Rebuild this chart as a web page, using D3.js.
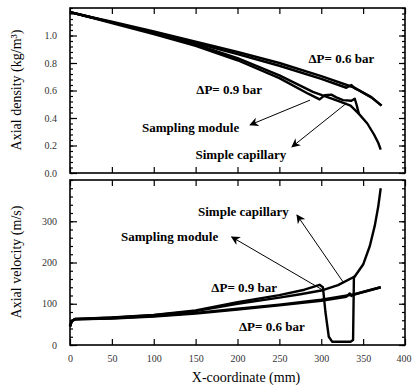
<!DOCTYPE html>
<html><head><meta charset="utf-8">
<script src="https://cdn.jsdelivr.net/npm/d3@7"></script>
<style>body{margin:0;background:#fff}svg{display:block} svg text{font-family:"Liberation Serif","Times New Roman","DejaVu Serif",serif !important;}</style>
</head><body>
<script>
// ---- data ----
const xTicks = [0,50,100,150,200,250,300,350,400];
const densTicks = [0,0.2,0.4,0.6,0.8,1.0];
const velTicks = [0,100,200,300];
// density (kg/m3) vs X (mm)
const densCap06 = [[0,1.17],[20,1.14],[50,1.1],[100,1.03],[150,0.955],[200,0.88],[250,0.8],[300,0.705],[340,0.62],[360,0.55],[372,0.49]];
const densMod06 = [[0,1.17],[20,1.14],[50,1.095],[100,1.022],[150,0.945],[200,0.865],[250,0.78],[300,0.685],[330,0.62],[336,0.64],[340,0.615],[345,0.6],[360,0.55],[372,0.49]];
const densCap09 = [[0,1.17],[20,1.14],[50,1.095],[100,1.02],[150,0.935],[200,0.835],[250,0.71],[290,0.59],[320,0.525],[335,0.49],[345,0.43],[355,0.36],[363,0.28],[368,0.22],[371,0.17]];
const densMod09 = [[0,1.17],[20,1.14],[50,1.09],[100,1.01],[150,0.925],[200,0.82],[250,0.69],[285,0.575],[298,0.535],[304,0.565],[312,0.57],[318,0.55],[326,0.53],[336,0.525],[340,0.54],[342,0.5],[345,0.43]];
// velocity (m/s) vs X (mm)
const velCap06 = [[0,45],[2,58],[6,62],[50,65],[100,70],[150,78],[200,88],[250,98],[300,110],[340,123],[371,140]];
const velMod06 = [[0,45],[2,58],[6,62],[50,64],[100,69],[150,76],[200,86],[250,96],[300,107],[330,117],[334,125],[336,119],[340,123],[371,140]];
const velCap09 = [[0,45],[2,58],[6,63],[50,66],[100,72],[150,82],[200,100],[250,115],[275,123],[300,132],[320,145],[340,166],[350,195],[358,240],[364,290],[368,335],[371,380]];
const velMod09 = [[0,45],[2,58],[6,63],[50,67],[100,73],[150,84],[200,104],[250,121],[280,134],[298,146],[302,140],[305,80],[309,20],[313,8],[335,8],[338,12],[339,165],[341,168]];
// annotations
const labelsTop = [
  {t:"ΔP= 0.6 bar", x:324, y:0.80},
  {t:"ΔP= 0.9 bar", x:190, y:0.575},
  {t:"Sampling module", x:144, y:0.30},
  {t:"Simple capillary", x:204, y:0.10}];
const arrowsTop = [
  {x1:286.6, y1:0.53, x2:215, y2:0.35},
  {x1:330.7, y1:0.51, x2:265, y2:0.19}];
const labelsBot = [
  {t:"Simple capillary", x:207, y:313},
  {t:"Sampling module", x:119, y:252},
  {t:"ΔP= 0.9 bar", x:208, y:128},
  {t:"ΔP= 0.6 bar", x:241, y:34}];
const arrowsBot = [
  {x1:326, y1:153, x2:271, y2:315},
  {x1:302, y1:133, x2:193, y2:262}];

// ---- layout ----
const W=412,H=390, L=70, R=405;
const FONT = "Liberation Serif, Times New Roman, DejaVu Serif, serif";
const svg = d3.select("body").append("svg").attr("width",W).attr("height",H).attr("font-family",FONT);
const defs = svg.append("defs");
defs.append("marker").attr("id","ah").attr("viewBox","0 0 10 10").attr("refX",9).attr("refY",5)
  .attr("markerWidth",9).attr("markerHeight",9).attr("markerUnits","userSpaceOnUse").attr("orient","auto")
  .append("path").attr("d","M0,0 L10,5 L0,10 L3,5 Z").attr("fill","#000");

const x = d3.scaleLinear().domain([0,400]).range([L,R]);

function panel(top,bottom,domain,ticks,minorStep,fmt,series,labels,arrows,title,titleY){
  const y = d3.scaleLinear().domain(domain).range([bottom,top]);
  const g = svg.append("g");
  const minor = d3.range(domain[0],domain[1]+1e-9,minorStep);
  g.append("g").attr("transform",`translate(${L},0)`).call(d3.axisLeft(y).tickValues(minor).tickSize(-3).tickFormat(""))
    .call(a=>a.select(".domain").remove());
  g.append("g").attr("transform",`translate(${L},0)`).call(d3.axisLeft(y).tickValues(ticks).tickSize(-7).tickPadding(13).tickFormat(fmt))
    .attr("font-family",FONT)
    .call(a=>a.select(".domain").remove())
    .call(a=>a.selectAll("text").attr("font-size",10).attr("fill","#333"));
  g.append("g").attr("transform",`translate(${R},0)`).call(d3.axisRight(y).tickValues(minor).tickSize(-3).tickFormat(""))
    .call(a=>a.select(".domain").remove());
  g.append("g").attr("transform",`translate(${R},0)`).call(d3.axisRight(y).tickValues(ticks).tickSize(-6).tickFormat(""))
    .call(a=>a.select(".domain").remove());
  g.append("g").attr("transform",`translate(0,${top})`).call(d3.axisTop(x).tickValues(xTicks).tickSize(-6).tickFormat(""))
    .call(a=>a.select(".domain").remove());
  g.append("g").attr("transform",`translate(0,${bottom})`).call(d3.axisBottom(x).tickValues(xTicks).tickSize(-6).tickFormat(""))
    .call(a=>a.select(".domain").remove());
  g.selectAll(".tick line").attr("stroke","#000").attr("stroke-width",1.2);
  g.append("rect").attr("x",L).attr("y",top).attr("width",R-L).attr("height",bottom-top)
    .attr("fill","none").attr("stroke","#000").attr("stroke-width",1.6);
  const line = d3.line().x(d=>x(d[0])).y(d=>y(d[1]));
  series.forEach(s=>{
    g.append("path").datum(s).attr("d",line).attr("fill","none").attr("stroke","#000")
      .attr("stroke-width",2.4).attr("stroke-linejoin","round");
  });
  labels.forEach(l=>{
    g.append("text").attr("x",x(l.x)).attr("y",y(l.y)).attr("text-anchor","middle")
      .attr("font-family",FONT).attr("font-weight","bold").attr("font-size",13).text(l.t);
  });
  arrows.forEach(a=>{
    g.append("line").attr("x1",x(a.x1)).attr("y1",y(a.y1)).attr("x2",x(a.x2)).attr("y2",y(a.y2))
      .attr("stroke","#000").attr("stroke-width",1).attr("marker-end","url(#ah)");
  });
  g.append("text").attr("transform",`translate(21,${titleY}) rotate(-90)`).attr("text-anchor","middle")
    .attr("font-family",FONT).attr("font-size",14).text(title);
  return y;
}

panel(8,173,[0,1.2],densTicks,0.04,d3.format(".1f"),[densCap06,densMod06,densCap09,densMod09],labelsTop,arrowsTop,"Axial density (kg/m³)",90);
panel(180,345,[0,400],velTicks,20,d3.format("d"),[velCap06,velMod06,velCap09,velMod09],labelsBot,arrowsBot,"Axial velocity (m/s)",262);

svg.append("g").attr("transform","translate(0,345)").call(d3.axisBottom(x).tickValues(xTicks).tickSize(0).tickPadding(10).tickFormat(d3.format("d")))
  .attr("font-family",FONT)
  .call(a=>a.select(".domain").remove())
  .call(a=>a.selectAll("text").attr("font-size",10).attr("fill","#333"))
  .call(a=>a.selectAll("text").filter(d=>d===400).attr("text-anchor","end").attr("dx",6));
svg.append("text").attr("x",246).attr("y",382).attr("text-anchor","middle").attr("font-family",FONT).attr("font-size",14).text("X-coordinate (mm)");
</script>
</body></html>
